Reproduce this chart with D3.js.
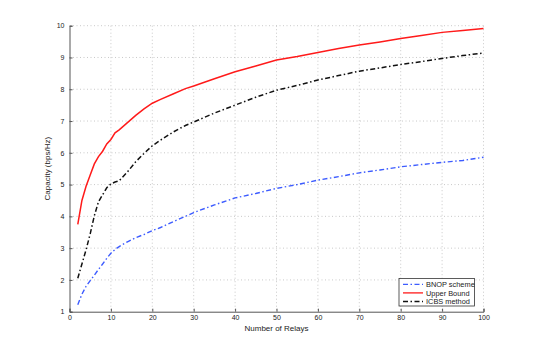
<!DOCTYPE html>
<html lang="en">
<head>
  <script src="https://d3js.org/d3.v7.min.js"></script>
  <style>
    body { margin: 0; background: #fff; }
    text { font-family: "Liberation Sans", Arial, sans-serif; fill: #222; }
  </style>
</head>
<body>
<script>
  // number of relays sampled
  const relays = [2, 3, 4, 5, 6, 7, 8, 9, 10, 11, 12, 14, 16, 18, 20, 22, 25, 28, 30, 35, 40, 45, 50, 55, 60, 65, 70, 75, 80, 85, 90, 95, 100];
  const bnop  = [1.22, 1.55, 1.8, 1.98, 2.15, 2.33, 2.5, 2.68, 2.84, 2.96, 3.05, 3.2, 3.33, 3.43, 3.55, 3.65, 3.83, 4.0, 4.12, 4.36, 4.58, 4.72, 4.88, 5.0, 5.14, 5.25, 5.37, 5.46, 5.56, 5.63, 5.7, 5.76, 5.86];
  const upper = [3.75, 4.5, 4.95, 5.3, 5.65, 5.88, 6.05, 6.28, 6.42, 6.63, 6.72, 6.95, 7.18, 7.38, 7.56, 7.68, 7.85, 8.02, 8.1, 8.33, 8.55, 8.73, 8.92, 9.03, 9.16, 9.28, 9.39, 9.49, 9.6, 9.69, 9.79, 9.85, 9.91];
  const icbs  = [2.05, 2.5, 2.95, 3.45, 4.02, 4.46, 4.68, 4.9, 5.02, 5.08, 5.12, 5.4, 5.72, 5.98, 6.22, 6.4, 6.65, 6.86, 6.97, 7.25, 7.5, 7.75, 7.97, 8.12, 8.29, 8.43, 8.57, 8.67, 8.78, 8.87, 8.97, 9.06, 9.14];
  const xTicks = [0, 10, 20, 30, 40, 50, 60, 70, 80, 90, 100];
  const yTicks = [1, 2, 3, 4, 5, 6, 7, 8, 9, 10];
  const seriesNames = ["BNOP scheme", "Upper Bound", "ICBS method"];

  const W = 533, H = 351;
  const margin = {top: 25.7, right: 49.5, bottom: 39.3, left: 69.5};
  const width = W - margin.left - margin.right;
  const height = H - margin.top - margin.bottom;

  const svg = d3.select("body").append("svg")
    .attr("width", W).attr("height", H);
  const g = svg.append("g")
    .attr("transform", "translate(" + margin.left + "," + margin.top + ")");

  const x = d3.scaleLinear().domain([0, 100]).range([0, width]);
  const y = d3.scaleLinear().domain([1, 10]).range([height, 0]);

  // dotted grid
  g.append("g").selectAll("line").data(xTicks.slice(1)).enter().append("line")
    .attr("x1", d => x(d)).attr("x2", d => x(d))
    .attr("y1", 0).attr("y2", height)
    .attr("stroke", "#bbb").attr("stroke-width", 0.8).attr("stroke-dasharray", "1,2.5");
  g.append("g").selectAll("line").data(yTicks.slice(1)).enter().append("line")
    .attr("x1", 0).attr("x2", width)
    .attr("y1", d => y(d)).attr("y2", d => y(d))
    .attr("stroke", "#bbb").attr("stroke-width", 0.8).attr("stroke-dasharray", "1,2.5");

  // axes, ticks inward like matlab
  const xAxis = g.append("g")
    .attr("transform", "translate(0," + height + ")")
    .call(d3.axisBottom(x).tickValues(xTicks).tickSize(-3).tickPadding(3.5));
  const yAxis = g.append("g")
    .call(d3.axisLeft(y).tickValues(yTicks).tickSize(-3).tickPadding(5));
  [xAxis, yAxis].forEach(a => {
    a.select(".domain").attr("stroke", "#555").attr("stroke-width", 1);
    a.selectAll(".tick line").attr("stroke", "#555");
    a.selectAll("text").style("font-family", "'Liberation Sans', Arial, sans-serif")
      .style("font-size", "7px").attr("fill", "#222");
  });

  const line = d3.line()
    .x((d, i) => x(relays[i]))
    .y(d => y(d));

  const styles = [
    {data: bnop,  color: "#3d5cff", dash: "5,2.5,1.5,2.5", w: 1.4},
    {data: upper, color: "#ff1a1a", dash: null, w: 1.5},
    {data: icbs,  color: "#111",    dash: "5,2.5,1.5,2.5", w: 1.5}
  ];

  styles.forEach(s => {
    g.append("path")
      .datum(s.data)
      .attr("fill", "none")
      .attr("stroke", s.color)
      .attr("stroke-width", s.w)
      .attr("stroke-dasharray", s.dash)
      .attr("d", line);
  });

  // labels
  svg.append("text")
    .attr("x", margin.left + width / 2).attr("y", 331)
    .attr("text-anchor", "middle").style("font-size", "8px")
    .text("Number of Relays");
  svg.append("text")
    .attr("transform", "translate(50," + (margin.top + height / 2) + ") rotate(-90)")
    .attr("text-anchor", "middle").style("font-size", "8px")
    .text("Capacity (bps/Hz)");

  // legend
  const leg = svg.append("g").attr("transform", "translate(399,278.5)");
  leg.append("rect")
    .attr("width", 75.5).attr("height", 27.5)
    .attr("fill", "#fff").attr("stroke", "#333").attr("stroke-width", 0.8);
  seriesNames.forEach((name, i) => {
    const ly = 5.8 + i * 8.6;
    leg.append("line")
      .attr("x1", 4).attr("x2", 24).attr("y1", ly).attr("y2", ly)
      .attr("stroke", styles[i].color).attr("stroke-width", 1.3)
      .attr("stroke-dasharray", styles[i].dash);
    leg.append("text")
      .attr("x", 27).attr("y", ly + 2.6)
      .style("font-size", "7.4px")
      .text(name);
  });
</script>
</body>
</html>
